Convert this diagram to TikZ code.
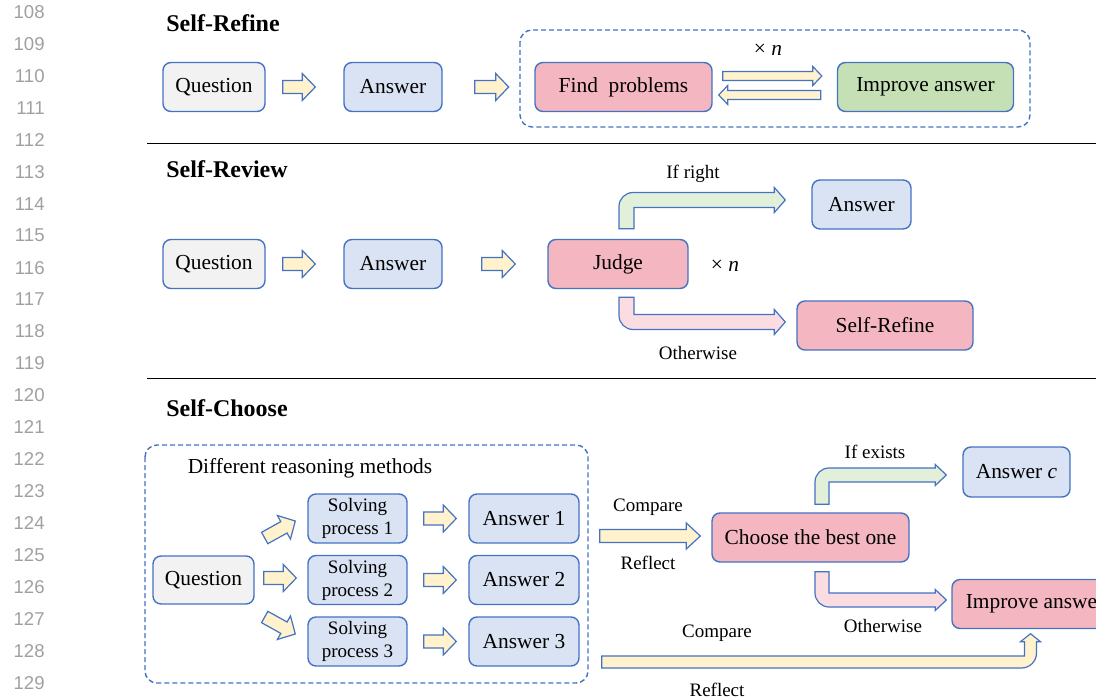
\documentclass[tikz,border=0pt]{standalone}
\usepackage{fontspec}
\setmainfont{Liberation Serif}
\setsansfont{Liberation Sans}
\usetikzlibrary{calc}

\definecolor{bordblue}{RGB}{68,114,196}
\definecolor{qgray}{RGB}{242,242,242}
\definecolor{ablue}{RGB}{218,227,243}
\definecolor{jpink}{RGB}{244,182,192}
\definecolor{igreen}{RGB}{197,224,180}
\definecolor{ayellow}{RGB}{255,242,204}
\definecolor{agreen}{RGB}{226,240,217}
\definecolor{apink}{RGB}{251,220,225}
\definecolor{numgray}{RGB}{160,160,160}

\newcommand{\boxfont}{\fontsize{10.7}{12.5}\selectfont}
\newcommand{\smallboxfont}{\fontsize{9.5}{11.5}\selectfont}
\newcommand{\notefont}{\fontsize{9.5}{11}\selectfont}
\newcommand{\headfont}{\fontsize{12}{14}\selectfont\bfseries}
\newcommand{\numfont}{\sffamily\fontsize{9.3}{11}\selectfont}

\tikzset{
  shaftw/.store in=\shaftw, headw/.store in=\headw, headl/.store in=\headl,
  bandw/.store in=\bandw, bendr/.store in=\bendr,
  shaftw=3.25pt, headw=6.75pt, headl=6.5pt, bandw=3.75pt, bendr=7pt,
  box/.style={draw=bordblue, line width=0.7pt, rounded corners=4pt, minimum height=24.5pt,
    inner sep=1pt, align=center, font=\boxfont},
  graybox/.style={box, fill=qgray},
  bluebox/.style={box, fill=ablue},
  pinkbox/.style={box, fill=jpink},
  greenbox/.style={box, fill=igreen},
  fatline/.style={draw=bordblue, line width=0.6pt, fill=ayellow, line join=miter},
  note/.style={font=\notefont, inner sep=1pt},
  headline/.style={anchor=base west, font=\headfont, inner sep=0pt},
  lineno/.style={anchor=east, font=\numfont, text=numgray, inner sep=0pt},
  dashframe/.style={draw=bordblue, line width=0.7pt, dash pattern=on 2.5pt off 1.5pt, rounded corners=6pt},
  seprule/.style={draw=black, line width=0.5pt}
}

% straight block arrow: tail, tip
\newcommand{\fatarrow}[3][]{%
  \path (#2) coordinate (fatS) (#3) coordinate (fatE);
  \draw[fatline, #1] let \p1=($(fatE)-(fatS)$), \n1={atan2(\y1,\x1)}, \n2={veclen(\x1,\y1)-\headl} in
    ($(fatS)+(\n1+90:\shaftw)$) -- ($(fatS)+(\n1:\n2)+(\n1+90:\shaftw)$)
    -- ($(fatS)+(\n1:\n2)+(\n1+90:\headw)$) -- (fatE)
    -- ($(fatS)+(\n1:\n2)+(\n1-90:\headw)$) -- ($(fatS)+(\n1:\n2)+(\n1-90:\shaftw)$)
    -- ($(fatS)+(\n1-90:\shaftw)$) -- cycle;}

% bent block arrow: start of the vertical part, tip, 1 = up / -1 = down
\newcommand{\bentarrow}[4][]{%
  \draw[fatline, #1] let \p1=(#2), \p2=(#3) in
    ({\x1-\bandw},\y1) -- ({\x1-\bandw},{\y2+(#4)*(\bandw-\bendr)})
    arc[start angle=180, end angle={180-(#4)*90}, radius=\bendr]
    -- ({\x2-\headl},{\y2+(#4)*\bandw}) -- ({\x2-\headl},{\y2+(#4)*\headw}) -- (\p2)
    -- ({\x2-\headl},{\y2-(#4)*\headw}) -- ({\x2-\headl},{\y2-(#4)*\bandw})
    -- ({\x1+\bandw},{\y2-(#4)*\bandw}) -- ({\x1+\bandw},\y1) -- cycle;}

\begin{document}
\begin{tikzpicture}[x=0.5pt, y=-0.5pt]
  \useasboundingbox (0,0) rectangle (1096,700);
  \clip (0,0) rectangle (1096,700);

  % line numbers
  \foreach \n [count=\i from 0] in {108,...,129}
    \node[lineno] (ln\n) at (45,{12+31.95*\i}) {\n};

  % Self-Refine
  \node[headline] (hrefine) at (166,32) {Self-Refine};
  \node[graybox, minimum width=51pt] (q1) at (214,87) {Question};
  \node[bluebox, minimum width=49pt] (a1) at (393,87) {Answer};
  \draw[dashframe] (520,30) rectangle (1030,127);
  \node[pinkbox, minimum width=88.5pt] (fp) at (623.5,87) {Find\ \ problems};
  \node[greenbox, minimum width=88pt] (ia1) at (925.5,87) {Improve answer};
  \node[note, font=\boxfont] (rep1) at (768,50) {× \textit{n}};
  \fatarrow{$(q1.east)+(17,0)$}{$(a1.west)+(-28,0)$};
  \fatarrow{$(a1.east)+(32,0)$}{$(a1.east)+(66,0)$};
  \fatarrow[shaftw=2.25pt, headw=4.75pt, headl=4.5pt]{$(fp.east)+(10,-11)$}{$(ia1.west)+(-15,-11)$};
  \fatarrow[shaftw=2.25pt, headw=4.75pt, headl=4.5pt]{$(ia1.west)+(-16,8)$}{$(fp.east)+(6,8)$};

  \draw[seprule] (147,144) -- (1096,144);

  % Self-Review
  \node[headline] (hreview) at (166,178) {Self-Review};
  \node[graybox, minimum width=51pt] (q2) at (214,264) {Question};
  \node[bluebox, minimum width=49pt] (a2) at (393,264) {Answer};
  \node[pinkbox, minimum width=70pt] (judge) at (618,264) {Judge};
  \node[note, font=\boxfont] (rep2) at (725,266) {× \textit{n}};
  \node[bluebox, minimum width=49.5pt] (a2r) at (861.5,204.5) {Answer};
  \node[pinkbox, minimum width=88pt] (sr) at (885,325.5) {Self-Refine};
  \fatarrow{$(q2.east)+(17,0)$}{$(a2.west)+(-28,0)$};
  \fatarrow{$(a2.east)+(39,0)$}{$(judge.west)+(-32,0)$};
  \bentarrow[fill=agreen, headw=6.25pt, headl=5.5pt]{$(judge.north)+(8.5,-10)$}{$(a2r.west)+(-26,-4.5)$}{1};
  \bentarrow[fill=apink, headw=6.25pt, headl=5.5pt]{$(judge.south)+(8.5,8)$}{$(sr.west)+(-11,-3.5)$}{-1};
  \node[note] (ifright) at (693,174) {If right};
  \node[note] (other1) at (698,353) {Otherwise};

  \draw[seprule] (147,378) -- (1096,378);

  % Self-Choose
  \node[headline] (hchoose) at (166,416) {Self-Choose};
  \draw[dashframe] (145,445) rectangle (588,683);
  \node[note, font=\boxfont] (methods) at (310,468) {Different reasoning methods};
  \node[graybox, minimum width=50.5pt, minimum height=24pt] (q3) at (203.5,580) {Question};
  \foreach \k/\yy in {1/518.5, 2/580, 3/641.5} {
    \node[bluebox, font=\smallboxfont, minimum width=49.5pt] (sp\k) at (357.5,\yy) {Solving\\process \k};
    \node[bluebox, minimum width=55pt] (an\k) at (524,\yy) {Answer \k};
    \fatarrow{$(sp\k.east)+(16,0)$}{$(an\k.west)+(-12,0)$};
  }
  \fatarrow{$(q3.east)+(10,-42)$}{$(sp1.west)+(-12,2.5)$};
  \fatarrow{$(q3.east)+(9,-2)$}{$(sp2.west)+(-11,-2)$};
  \fatarrow{$(q3.east)+(10,37)$}{$(sp3.west)+(-12,-7.5)$};

  \node[pinkbox, minimum width=98.5pt] (choose) at (810.5,537.5) {Choose the best one};
  \node[bluebox, minimum width=53.5pt, minimum height=25pt] (anc) at (1016.5,472) {Answer \textit{c}};
  \node[pinkbox, minimum width=83pt] (ia2) at (1035,604) {Improve answer};
  \fatarrow[headw=6.5pt, headl=7pt]{$(an1.east)+(20,17.5)$}{$(choose.west)+(-11,-1.5)$};
  \node[note] (cmp1) at (648,507) {Compare};
  \node[note] (ref1) at (648,563) {Reflect};
  \bentarrow[fill=agreen, bandw=3.5pt, headw=5.25pt, headl=5.5pt]{$(choose.north)+(11.5,-8)$}{$(anc.west)+(-16,3)$}{1};
  \bentarrow[fill=apink, bandw=3.5pt, headw=5.25pt, headl=5.5pt]{$(choose.south)+(11.5,9)$}{$(ia2.west)+(-5,-4)$}{-1};
  \node[note] (ifexists) at (875,452) {If exists};
  \node[note] (other2) at (883,626) {Otherwise};

  % long arrow under everything
  \coordinate (lngS) at ($(an3.east)+(22,20.5)$);
  \coordinate (lngE) at ($(ia2.south)+(-4.5,4.5)$);
  \draw[fatline] let \p1=(lngS), \p2=(lngE) in
    (\x1,{\y1-3pt}) -- ({\x2+3pt-7.5pt},{\y1-3pt}) arc[start angle=-90, end angle=0, radius=7.5pt]
    -- ({\x2+3pt},{\y2-4pt}) -- ({\x2+5pt},{\y2-4pt}) -- (\p2) -- ({\x2-5pt},{\y2-4pt})
    -- ({\x2-3pt},{\y2-4pt}) -- ({\x2-3pt},{\y1+3pt}) -- (\x1,{\y1+3pt}) -- cycle;
  \node[note] (cmp2) at (717,633) {Compare};
  \node[note] (ref2) at (717,690) {Reflect};
\end{tikzpicture}
\end{document}
